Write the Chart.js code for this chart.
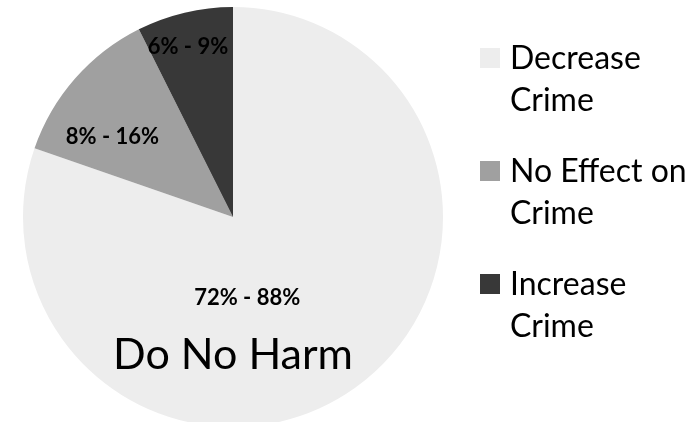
<!DOCTYPE html>
<html lang="en">
<head>
<meta charset="UTF-8">
<title>Do No Harm</title>
<script src="https://cdn.jsdelivr.net/npm/chart.js@4.4.0/dist/chart.umd.min.js"></script>
<style>
  html, body { margin: 0; padding: 0; background: #fff; overflow: hidden; }
  #wrap { position: relative; width: 698px; height: 432px; }
</style>
</head>
<body>
<div id="wrap"><canvas id="pieChart"></canvas></div>
<script>
// data
const categories = [["Decrease", "Crime"], ["No Effect on", "Crime"], ["Increase", "Crime"]];
const shares = [80.3, 12.3, 7.4];
const rangeLabels = ["72% - 88%", "8% - 16%", "6% - 9%"];
const sliceColors = ["#EDEDED", "#A0A0A0", "#383838"];
const centerTitle = "Do No Harm";

const FONT = "Lato, 'Open Sans', sans-serif";

// labels inside the slices (angle clockwise from top, distance as fraction of radius)
const sliceLabelPlugin = {
  id: "sliceLabels",
  afterDatasetsDraw(chart, args, opts) {
    const ctx = chart.ctx;
    const arc = chart.getDatasetMeta(0).data[0];
    const cx = arc.x, cy = arc.y, r = arc.outerRadius;
    ctx.save();
    ctx.fillStyle = "#000";
    ctx.textAlign = "center";
    ctx.textBaseline = "middle";
    ctx.font = "bold 22px " + FONT;
    opts.spots.forEach((s, i) => {
      const a = s.angle * Math.PI / 180;
      ctx.fillText(rangeLabels[i], cx + Math.sin(a) * s.dist * r, cy - Math.cos(a) * s.dist * r);
    });
    ctx.font = "43px " + FONT;
    const t = opts.title;
    const ta = t.angle * Math.PI / 180;
    ctx.fillText(centerTitle, cx + Math.sin(ta) * t.dist * r, cy - Math.cos(ta) * t.dist * r);
    ctx.restore();
  }
};

// two-line legend on the right
const sideLegendPlugin = {
  id: "sideLegend",
  afterDraw(chart, args, opts) {
    const ctx = chart.ctx;
    const ds = chart.data.datasets[0];
    ctx.save();
    ctx.font = opts.fontSize + "px " + FONT;
    ctx.textAlign = "left";
    ctx.textBaseline = "middle";
    chart.data.labels.forEach((lines, i) => {
      const y = opts.top + i * opts.gap;
      ctx.fillStyle = ds.backgroundColor[i];
      ctx.fillRect(opts.x, y - opts.box / 2, opts.box, opts.box);
      ctx.fillStyle = "#000";
      lines.forEach((ln, j) => ctx.fillText(ln, opts.x + opts.box + 10, y + 1 + j * opts.lineH));
    });
    ctx.restore();
  }
};

new Chart(document.getElementById("pieChart"), {
  type: "pie",
  data: {
    labels: categories,
    datasets: [{
      data: shares,
      backgroundColor: sliceColors,
      borderWidth: 0
    }]
  },
  plugins: [sliceLabelPlugin, sideLegendPlugin],
  options: {
    responsive: true,
    maintainAspectRatio: false,
    animation: false,
    layout: { padding: { left: 23, right: 255, top: 7, bottom: 5 } },
    plugins: {
      legend: { display: false },
      tooltip: { enabled: false },
      sliceLabels: {
        spots: [
          { angle: 170, dist: 0.39 },
          { angle: 303.7, dist: 0.69 },
          { angle: 345.2, dist: 0.84 }
        ],
        title: { angle: 180, dist: 0.66 }
      },
      sideLegend: { x: 480, top: 58, gap: 113, box: 20, lineH: 42, fontSize: 32 }
    }
  }
});
</script>
</body>
</html>
